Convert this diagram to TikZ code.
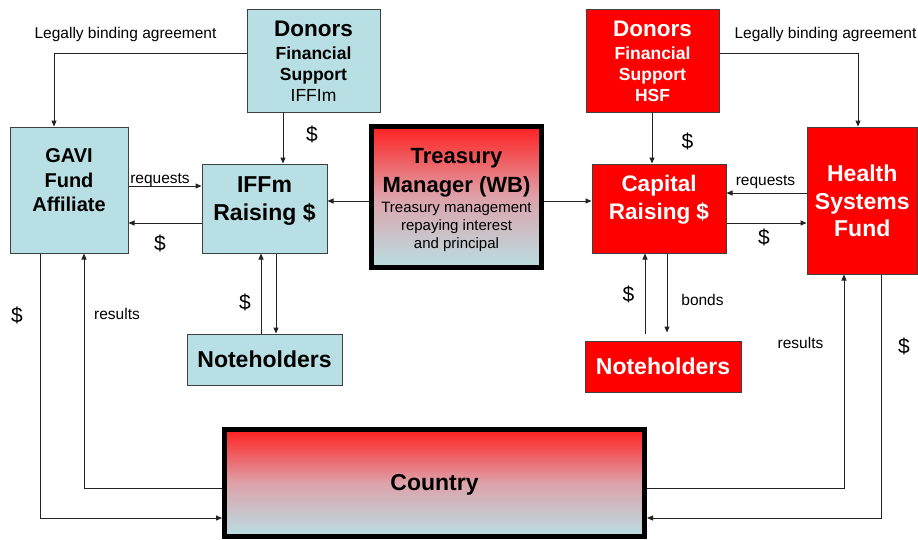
\documentclass[tikz,border=0pt]{standalone}
\usepackage{fontspec}
\setmainfont{Liberation Sans}
\usetikzlibrary{arrows.meta}

\definecolor{boxblue}{RGB}{184,223,227}
\definecolor{boxred}{RGB}{255,0,0}
\definecolor{edgegray}{RGB}{64,64,64}
\definecolor{linkgray}{RGB}{35,35,35}
\definecolor{shadered}{RGB}{255,32,32}
\definecolor{shademid}{RGB}{222,162,170}

\tikzset{
  bluebox/.style={draw=edgegray, line width=1pt, fill=boxblue, inner sep=0pt},
  redbox/.style={draw=edgegray, line width=1pt, fill=boxred, inner sep=0pt},
  bankbox/.style={draw=black, line width=5pt, top color=shadered, bottom color=boxblue, middle color=shademid, inner sep=0pt},
  link/.style={draw=linkgray, line width=1pt, -{Triangle[length=6pt,width=5pt]}},
  lbl/.style={font=\fontsize{15.5}{18}\selectfont, inner sep=0pt, anchor=base},
  dollar/.style={font=\fontsize{21}{24}\selectfont, inner sep=0pt},
  boxtext/.style={align=center, inner sep=0pt},
}

\begin{document}
\begin{tikzpicture}[x=1pt,y=-1pt]
\useasboundingbox (0,0) rectangle (918,539);

% ---- boxes ----
\node[bluebox, minimum width=133pt, minimum height=103pt] (donL) at (313.5,60.5) {};
\node[bluebox, minimum width=118pt, minimum height=126pt] (gavi) at (69,190) {};
\node[bluebox, minimum width=125pt, minimum height=89pt] (iffm) at (264.5,208.5) {};
\node[bluebox, minimum width=155pt, minimum height=51pt] (nhL) at (264.5,359.5) {};
\node[bankbox, minimum width=170pt, minimum height=141pt] (tm) at (456.5,197) {};
\node[bankbox, minimum width=420pt, minimum height=107pt] (country) at (434.5,483) {};
\node[redbox, minimum width=133pt, minimum height=103pt] (donR) at (652.5,60.5) {};
\node[redbox, minimum width=134pt, minimum height=89pt] (cap) at (659,208.5) {};
\node[redbox, minimum width=110.5pt, minimum height=147pt] (hsf) at (862.25,200.5) {};
\node[redbox, minimum width=156pt, minimum height=51pt] (nhR) at (663,366.5) {};

% ---- box texts ----
\node[boxtext, font=\fontsize{17.5}{21}\selectfont\bfseries] (donLt) at ([yshift=-1pt]donL.center)
  {{\fontsize{22.5}{21}\selectfont Donors}\\[2pt] Financial\\ Support\\ {\mdseries IFFIm}};
\node[boxtext, font=\fontsize{20}{24.5}\selectfont\bfseries] (gavit) at ([yshift=9.6pt]gavi.center)
  {GAVI\\ Fund\\ Affiliate};
\node[boxtext, font=\fontsize{23}{28}\selectfont\bfseries] (iffmt) at ([yshift=7.4pt]iffm.center)
  {IFFm\\ Raising \$};
\node[boxtext, font=\fontsize{23}{28}\selectfont\bfseries] (nhLt) at (nhL.center) {Noteholders};
\node[boxtext, font=\fontsize{15}{29}\selectfont] (tmt) at ([yshift=-3.2pt]tm.center)
  {{\bfseries\fontsize{22}{29}\selectfont Treasury}\\ {\bfseries\fontsize{22}{29}\selectfont Manager (WB)}\\[-9.5pt]
   Treasury management\\[-11pt] repaying interest\\[-11pt] and principal};
\node[boxtext, font=\fontsize{23}{28}\selectfont\bfseries] (countryt) at ([yshift=-2pt]country.center) {Country};
\node[boxtext, text=white, font=\fontsize{17.5}{21}\selectfont\bfseries] (donRt) at ([yshift=-1pt]donR.center)
  {{\fontsize{22.5}{21}\selectfont Donors}\\[2pt] Financial\\ Support\\ HSF};
\node[boxtext, text=white, font=\fontsize{22.5}{28}\selectfont\bfseries] (capt) at ([yshift=8.3pt]cap.center)
  {Capital\\ Raising \$};
\node[boxtext, text=white, font=\fontsize{23}{27.5}\selectfont\bfseries] (hsft) at ([yshift=-0.7pt]hsf.center)
  {Health\\ Systems\\ Fund};
\node[boxtext, text=white, font=\fontsize{23}{28}\selectfont\bfseries] (nhRt) at (nhR.center) {Noteholders};

% ---- connectors, IFFIm side ----
\draw[link] ([yshift=7.5pt]donL.west) -| ([xshift=-15pt]gavi.north);
\draw[link] ([xshift=-30.5pt]donL.south) -- ([xshift=18.5pt]iffm.north);
\draw[link] ([yshift=4pt]gavi.east) -- ([yshift=22.5pt]iffm.west);
\draw[link] ([yshift=-14.5pt]iffm.west) -- ([yshift=-33pt]gavi.east);
\draw[link] ([yshift=-4pt]tm.west) -- ([yshift=7.5pt]iffm.east);
\draw[link] ([xshift=-29pt]gavi.south) |- ([yshift=-35pt]country.west);
\draw[link] ([yshift=-5pt]country.west) -| ([xshift=15pt]gavi.south);
\draw[link] ([xshift=-3.5pt]nhL.north) -- ([xshift=-3.5pt]iffm.south);
\draw[link] ([xshift=11.5pt]iffm.south) -- ([xshift=11.5pt]nhL.north);

% ---- connectors, HSF side ----
\draw[link] ([yshift=-4pt]tm.east) -- ([yshift=7.5pt]cap.west);
\draw[link] ([xshift=-0.5pt]donR.south) -- ([xshift=-7pt]cap.north);
\draw[link] ([yshift=7.5pt]hsf.west) -- ([yshift=15.5pt]cap.east);
\draw[link] ([yshift=-14.5pt]cap.east) -- ([yshift=-22.5pt]hsf.west);
\draw[link] ([yshift=7.5pt]donR.east) -| ([xshift=-4.25pt]hsf.north);
\draw[link] ([xshift=-18pt,yshift=7pt]nhR.north) -- ([xshift=-14pt]cap.south);
\draw[link] ([xshift=8pt]cap.south) -- ([xshift=4pt,yshift=8pt]nhR.north);
\draw[link] ([yshift=-5pt]country.east) -| ([xshift=-18.25pt]hsf.south);
\draw[link] ([xshift=18.75pt]hsf.south) |- ([yshift=-35pt]country.east);

% ---- connector labels ----
\node[lbl] (agreeL) at (125.5,38) {Legally binding agreement};
\node[lbl] (agreeR) at (825.5,38) {Legally binding agreement};
\node[dollar] (d1) at (312,134.5) {\$};
\node[lbl] (reqL) at (160,183.5) {requests};
\node[dollar] (d2) at (160,243) {\$};
\node[dollar] (d3) at (17,315) {\$};
\node[lbl] (resL) at (117,319) {results};
\node[dollar] (d4) at (245,302) {\$};
\node[dollar] (d5) at (687.5,141) {\$};
\node[lbl] (reqR) at (765.5,185) {requests};
\node[dollar] (d6) at (764,237.5) {\$};
\node[dollar] (d7) at (628.5,294) {\$};
\node[lbl] (bonds) at (702.5,305) {bonds};
\node[lbl] (resR) at (800.5,348) {results};
\node[dollar] (d8) at (904,346) {\$};
\end{tikzpicture}
\end{document}
